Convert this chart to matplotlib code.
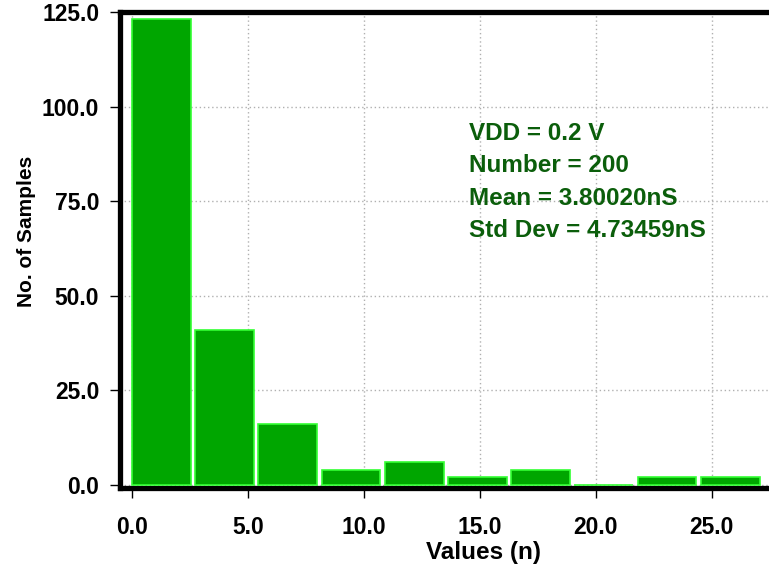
import matplotlib.pyplot as plt
from matplotlib.ticker import FormatStrFormatter

# =====================================
# 1. DATA
# =====================================
bin_edges = [0.0, 2.725, 5.45, 8.175, 10.9, 13.625, 16.35, 19.075, 21.8, 24.525]
bin_width = 2.725
counts = [123, 41, 16, 4, 6, 2, 4, 0, 2, 2]

x_ticks = [0, 5, 10, 15, 20, 25]
y_ticks = [0, 25, 50, 75, 100, 125]

stats_lines = ["VDD = 0.2 V", "Number = 200", "Mean = 3.80020nS", "Std Dev = 4.73459nS"]

# =====================================
# 2. FIGURE
# =====================================
plt.rcParams["font.family"] = ["Liberation Sans", "DejaVu Sans"]
plt.rcParams["font.weight"] = "bold"

fig = plt.figure(figsize=(7.69, 5.68), dpi=100)
ax = fig.add_axes([0.156, 0.141, 0.844, 0.838])

ax.bar(bin_edges, counts, width=bin_width * 0.93, align="edge",
       color="#00a600", edgecolor="#33ff33", linewidth=1.2, zorder=3)

ax.set_xlim(-0.52, 27.46)
ax.set_ylim(-0.8, 125)

ax.set_xticks(x_ticks)
ax.set_yticks(y_ticks)
ax.xaxis.set_major_formatter(FormatStrFormatter("%.1f"))
ax.yaxis.set_major_formatter(FormatStrFormatter("%.1f"))
ax.tick_params(axis="both", labelsize=16.5, width=1, length=7, color="black")
ax.tick_params(axis="x", pad=13)
ax.tick_params(axis="y", pad=8)

ax.grid(True, color="#b0b0b0", linestyle=(0, (1, 2)), linewidth=1, zorder=0)

for side in ["left", "bottom", "top"]:
    ax.spines[side].set_linewidth(3.8)
ax.spines["right"].set_visible(False)

ax.set_xlabel("Values (n)", fontsize=17.5, fontweight="bold")
ax.set_ylabel("No. of Samples", fontsize=15, fontweight="bold")
ax.xaxis.set_label_coords(0.560, -0.112)
ax.yaxis.set_label_coords(-0.130, 0.54)

# stats box
for i, line in enumerate(stats_lines):
    ax.text(0.538, 0.745 - i * 0.068, line, transform=ax.transAxes,
            fontsize=17.5, fontweight="bold", color="#0b5e0b", va="center")

plt.savefig("out.png", dpi=100)
plt.close()
